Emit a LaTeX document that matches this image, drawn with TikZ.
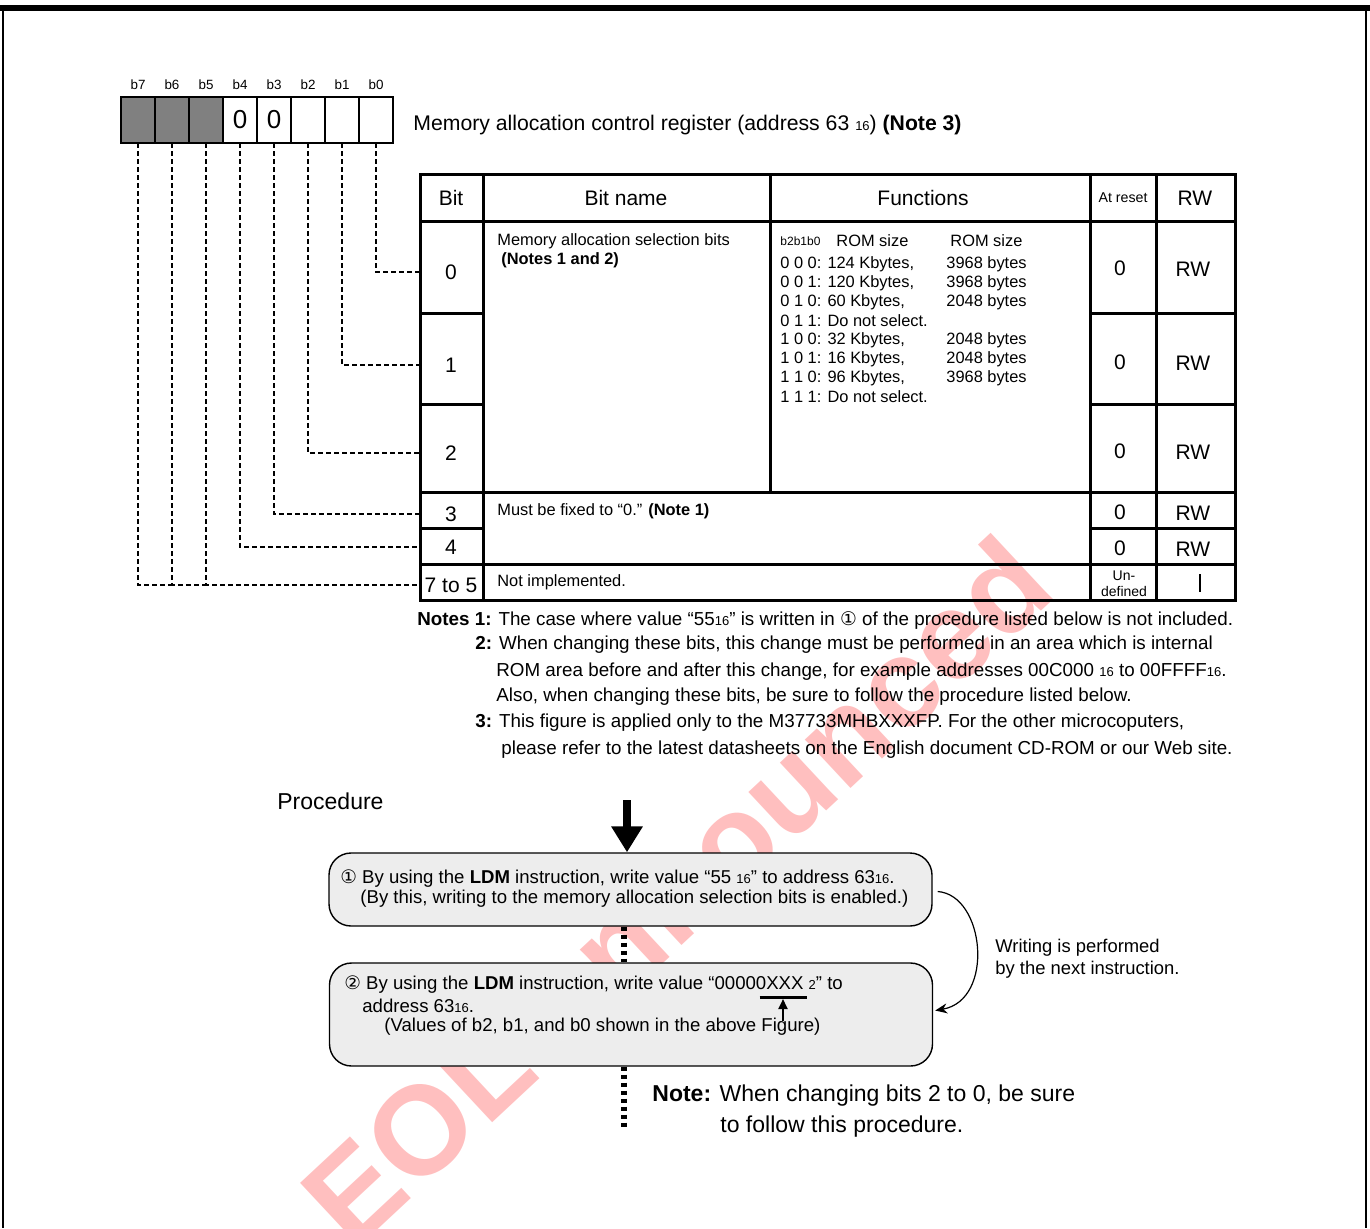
\documentclass[tikz,border=0pt]{standalone}
\usepackage{fontspec}
\setmainfont{Liberation Sans}
\newfontfamily\symf{DejaVu Sans}
\usetikzlibrary{arrows.meta, positioning, calc}
\newcommand\lowsub[1]{{\fontsize{6.5}{6.5}\selectfont #1}}
\tikzset{
  bitcell/.style={rectangle, draw=black, line width=1pt, outer sep=0pt, inner sep=0pt, minimum width=17pt, minimum height=23pt, font=\fontsize{13}{13}\selectfont},
  bitfix/.style={bitcell, fill=black!50},
  bitlbl/.style={inner sep=0pt, font=\fontsize{6.7}{7}\selectfont},
  leader/.style={line width=0.8pt, dash pattern=on 2.5pt off 1.5pt},
  tblline/.style={line width=1.5pt},
  hdr/.style={inner sep=0pt, font=\fontsize{10.5}{11}\selectfont},
  bitno/.style={hdr, minimum width=31.5pt},
  txt/.style={anchor=west, inner sep=0pt, font=\fontsize{8.2}{9.5}\selectfont},
  note/.style={anchor=west, inner sep=0pt, font=\fontsize{9.4}{11}\selectfont},
  stepbox/.style={rectangle, rounded corners=11pt, draw=black, line width=0.7pt, fill=black!7, minimum width=301.5pt},
  boxtxt/.style={anchor=west, inner sep=0pt, font=\fontsize{9.3}{10}\selectfont},
  flowdash/.style={line width=3pt, dash pattern=on 2pt off 2pt},
  bigarrow/.style={line width=4pt, -{Triangle[width=15pt,length=13pt]}},
  arrow/.style={line width=0.6pt, -{Stealth[length=6pt,width=5pt]}},
  wmark/.style={inner sep=0pt, text=red!25, rotate=43, font=\fontsize{63}{63}\selectfont\bfseries}
}

\begin{document}
\begin{tikzpicture}[x=0.5pt, y=-0.5pt]
\useasboundingbox (0,0) rectangle (1370,1228);

% Watermark, behind everything
\node[wmark] (wm) at (676,890) {EOL announced};

% Page frame
\draw[line width=3pt] (0,8) -- (1370,8);
\draw[line width=1.1pt] (3,8) -- (3,1228);
\draw[line width=1.1pt] (1366,8) -- (1366,1228);

% REGISTER - bit boxes
\node[bitfix] (b7) at (138,120) {};
\node[bitfix, right=0pt of b7] (b6) {};
\node[bitfix, right=0pt of b6] (b5) {};
\node[bitcell, right=0pt of b5] (b4) {0};
\node[bitcell, right=0pt of b4] (b3) {0};
\node[bitcell, right=0pt of b3] (b2) {};
\node[bitcell, right=0pt of b2] (b1) {};
\node[bitcell, right=0pt of b1] (b0) {};
\foreach \b in {7,...,0}
  \node[bitlbl, above=3.5pt of b\b] (lbl\b) {b\b};

\node[hdr, anchor=west, font=\fontsize{10.6}{11}\selectfont] (regname) at (413,125)
  {Memory allocation control register (address 63 \lowsub{16}) \textbf{(Note 3)}};

% TABLE - grid
\draw[tblline] (420,174) rectangle (1235,600);
\draw[tblline] (483,174) -- (483,600);
\draw[tblline] (770,174) -- (770,492);
\draw[tblline] (1090,174) -- (1090,600);
\draw[tblline] (1156,174) -- (1156,600);
\draw[tblline] (420,221) -- (1235,221);
\draw[tblline] (420,492) -- (1235,492);
\draw[tblline] (420,564) -- (1235,564);
\foreach \y in {313,404,528} {
  \draw[tblline] (420,\y) -- (483,\y);
  \draw[tblline] (1090,\y) -- (1235,\y);
}

% TABLE - header
\node[hdr] (hbit) at (451,198) {Bit};
\node[hdr] (hname) at (626,198) {Bit name};
\node[hdr] (hfunc) at (923,198) {Functions};
\node[hdr, font=\fontsize{7.1}{8}\selectfont] (hreset) at (1123,198) {At reset};
\node[hdr] (hrw) at (1195,198) {RW};

% TABLE - bit numbers
\node[bitno] (r0) at (451,272) {0};
\node[bitno] (r1) at (451,365) {1};
\node[bitno] (r2) at (451,453) {2};
\node[bitno] (r3) at (451,514) {3};
\node[bitno] (r4) at (451,547) {4};
\node[bitno] (r75) at (451,585) {7 to 5};

% TABLE - reset values and RW
\foreach \y [count=\i] in {268,362,451,512,548} {
  \node[hdr] (rst\i) at (1120,\y) {0};
  \node[hdr] (rw\i) at (1193,{\y+1}) {RW};
}
\node[hdr, align=center, font=\fontsize{7}{8}\selectfont] (rst6) at (1124,584) {Un-\\defined};
\draw[line width=0.6pt] (1200,574) -- (1200,592);

% TABLE - texts
\node[txt] (nm0) at (497,241) {Memory allocation selection bits};
\node[txt] (nm1) at (501,260) {\textbf{(Notes 1 and 2)}};
\node[txt, font=\fontsize{6}{7}\selectfont] (fhd) at (780,241) {b2b1b0};
\node[txt] (fhd1) at (836,241) {ROM size};
\node[txt] (fhd2) at (950,241) {ROM size};
\foreach \code/\rom/\ram [count=\i] in {
  {0 0 0}/{124 Kbytes,}/{3968 bytes},
  {0 0 1}/{120 Kbytes,}/{3968 bytes},
  {0 1 0}/{60 Kbytes,}/{2048 bytes},
  {0 1 1}/{Do not select.}/{},
  {1 0 0}/{32 Kbytes,}/{2048 bytes},
  {1 0 1}/{16 Kbytes,}/{2048 bytes},
  {1 1 0}/{96 Kbytes,}/{3968 bytes},
  {1 1 1}/{Do not select.}/{}} {
  \node[txt] (fa\i) at (780,{245+19*\i}) {\code: \rom};
  \node[txt] (fb\i) at (946,{245+19*\i}) {\ram};
}
\node[txt] (nm3) at (497,511) {Must be fixed to “0.” \textbf{(Note 1)}};
\node[txt] (nm75) at (497,582) {Not implemented.};

% Leaders from bits to rows
\foreach \b/\r in {0/r0, 1/r1, 2/r2, 3/r3, 4/r4}
  \draw[leader] (b\b.south) |- (\r.west);
\draw[leader] (b7.south) |- (b6.south |- r75.west);
\draw[leader] (b6.south) |- (b5.south |- r75.west);
\draw[leader] (b5.south) |- (r75.west);

% NOTES
\node[note] (n1) at (417,620) {\textbf{Notes 1:} The case where value “55\lowsub{16}” is written in {\symf ①} of the procedure listed below is not included.};
\node[note] (n2) at (475,645) {\textbf{2:} When changing these bits, this change must be performed in an area which is internal};
\node[note] (n2b) at (496,672) {ROM area before and after this change, for example addresses 00C000 \lowsub{16} to 00FFFF\lowsub{16}.};
\node[note] (n2c) at (496,697) {Also, when changing these bits, be sure to follow the procedure listed below.};
\node[note] (n3) at (475,723) {\textbf{3:} This figure is applied only to the M37733MHBXXXFP. For the other microcoputers,};
\node[note] (n3b) at (501,750) {please refer to the latest datasheets on the English document CD-ROM or our Web site.};

% PROCEDURE
\node[anchor=west, inner sep=0pt, font=\fontsize{11.5}{12}\selectfont] (proc) at (277,801) {Procedure};
\node[stepbox, minimum height=36.5pt] (step1) at (630.5,889.5) {};
\node[stepbox, minimum height=51.5pt] (step2) at (631,1014.5) {};
\coordinate (arrtop) at (627,800);
\coordinate (flowend) at (624,1130);
\draw[bigarrow] (arrtop) -- (arrtop |- step1.north);
\draw[flowdash] (step1.south -| flowend) -- (step2.north -| flowend);
\draw[flowdash] (step2.south -| flowend) -- (flowend);

\node[boxtxt] (s1a) at (340,879) {{\symf ①} By using the \textbf{LDM} instruction, write value “55 \lowsub{16}” to address 63\lowsub{16}.};
\node[boxtxt] (s1b) at (360,899) {(By this, writing to the memory allocation selection bits is enabled.)};
\node[boxtxt] (s2a) at (344,985) {{\symf ②} By using the \textbf{LDM} instruction, write value “00000XXX \lowsub{2}” to};
\node[boxtxt] (s2b) at (362,1006) {address 63\lowsub{16}.};
\node[boxtxt] (s2c) at (384,1027) {(Values of b2, b1, and b0 shown in the above Figure)};

% marker under XXX
\coordinate (xbar) at (783,997);
\coordinate (xfoot) at (783,1021);
\draw[line width=1.5pt] ($(xbar)+(-23.5,0)$) -- ($(xbar)+(23.5,0)$);
\draw[arrow, -{Triangle[length=5pt,width=4.5pt]}, line width=1pt] (xfoot) -- ($(xbar)+(0,2)$);

% next-instruction arrow
\draw[arrow] ($(step1.east)+(5,2)$) .. controls (985,895) and (995,1000) .. ($(step2.east)+(2,-4)$);
\node[anchor=west, inner sep=0pt, align=left, font=\fontsize{9.2}{11}\selectfont] (wlab) at (995,959)
  {Writing is performed\\by the next instruction.};

\node[anchor=west, inner sep=0pt, font=\fontsize{11.5}{13}\selectfont] (bnote) at (652,1096)
  {\textbf{Note:} When changing bits 2 to 0, be sure};
\node[anchor=west, inner sep=0pt, font=\fontsize{11.5}{13}\selectfont] (bnote2) at (720,1127)
  {to follow this procedure.};
\end{tikzpicture}
\end{document}
